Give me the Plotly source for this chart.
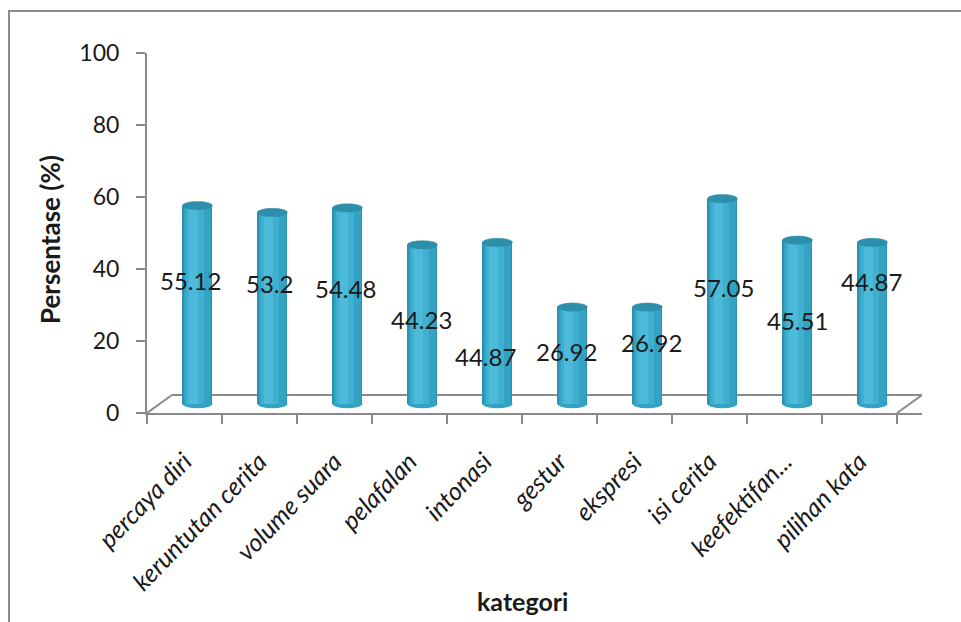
import plotly.graph_objects as go

# Category names and percentages
categories = ["percaya diri", "keruntutan cerita", "volume suara", "pelafalan",
              "intonasi", "gestur", "ekspresi", "isi cerita", "keefektifan...",
              "pilihan kata"]
values = [55.12, 53.2, 54.48, 44.23, 44.87, 26.92, 26.92, 57.05, 45.51, 44.87]
value_text = ["55.12", "53.2", "54.48", "44.23", "44.87", "26.92", "26.92",
              "57.05", "45.51", "44.87"]

# Where the value labels sit (data units on the y axis) and their small horizontal nudges (px)
label_y = [36.7, 36.1, 34.5, 25.9, 15.6, 17.2, 19.7, 34.8, 25.6, 36.4]
label_dx = [-7, -3, -2, -1, -12, -6, 4, 1, 0, -1]

y_ticks = [0, 20, 40, 60, 80, 100]

FONT = "Lato, Carlito, Calibri, sans-serif"
DEPTH_X = 0.333      # floor depth shift in category units
DEPTH_Y = 5.0        # floor depth shift in y units
CYL_SHIFT = DEPTH_X / 2 + 0.006
CYL_W = 0.40
BASE_SHIFT = 2.5     # cylinders stand at mid-depth of the floor

n = len(categories)
idx = list(range(n))
centers = [i + CYL_SHIFT for i in idx]

fig = go.Figure()

# cylinder bodies: layered strips give a rounded shading
strips = [
    (CYL_W, 0.0, "#2B91B0"),
    (0.36, 0.0, "#34A3C3"),
    (0.24, -0.03, "#3FB0CF"),
    (0.12, -0.05, "#4CBAD8"),
]
for w, shift, col in strips:
    fig.add_trace(go.Bar(
        x=categories, y=values, width=[w] * n,
        offset=[CYL_SHIFT + shift - w / 2] * n,
        marker=dict(color=col, line=dict(width=0)),
        yaxis="y2", hoverinfo="skip", showlegend=False,
    ))

shapes = []
# 3D floor edges
shapes.append(dict(type="line", xref="x", yref="y", x0=-0.5, y0=0,
                   x1=-0.5 + DEPTH_X, y1=DEPTH_Y, line=dict(color="#8a8a8a", width=2), layer="below"))
shapes.append(dict(type="line", xref="x", yref="y", x0=-0.5 + DEPTH_X, y0=DEPTH_Y,
                   x1=n - 0.5 + DEPTH_X, y1=DEPTH_Y, line=dict(color="#8a8a8a", width=2), layer="below"))
shapes.append(dict(type="line", xref="x", yref="y", x0=n - 0.5, y0=0,
                   x1=n - 0.5 + DEPTH_X, y1=DEPTH_Y, line=dict(color="#8a8a8a", width=2), layer="below"))

# cylinder bottoms and tops
for c, v in zip(centers, values):
    shapes.append(dict(type="circle", xref="x", yref="y2",
                       x0=c - CYL_W / 2, x1=c + CYL_W / 2, y0=-1.15, y1=1.15,
                       fillcolor="#34A3C3", line=dict(width=0), layer="below"))
    shapes.append(dict(type="circle", xref="x", yref="y2",
                       x0=c - CYL_W / 2, x1=c + CYL_W / 2, y0=v - 1.15, y1=v + 1.15,
                       fillcolor="#2C8FAC", line=dict(color="#2A8AA6", width=0.5)))

# outer chart border
shapes.append(dict(type="rect", xref="paper", yref="paper",
                   x0=(9 - 147) / 775, x1=1.3, y0=-1.0, y1=(413 - 11) / 360,
                   line=dict(color="#8c8c8c", width=2), fillcolor="rgba(0,0,0,0)"))

annotations = []
for c, v, t, ly, dx in zip(centers, values, value_text, label_y, label_dx):
    annotations.append(dict(x=c, y=ly, xref="x", yref="y", text=t, showarrow=False,
                            xshift=dx, font=dict(family=FONT, size=24, color="#1a1a1a")))

annotations.append(dict(text="<b>Persentase (%)</b>", xref="paper", yref="paper",
                        x=(50 - 147) / 775, y=(413 - 240) / 360, textangle=-90,
                        showarrow=False, xanchor="center", yanchor="middle",
                        font=dict(family=FONT, size=26, color="#1a1a1a")))
annotations.append(dict(text="<b>kategori</b>", xref="paper", yref="paper",
                        x=(522 - 147) / 775, y=(413 - 601) / 360,
                        showarrow=False, xanchor="center", yanchor="middle",
                        font=dict(family=FONT, size=25, color="#1a1a1a")))

fig.update_layout(
    width=961, height=622,
    margin=dict(l=147, r=39, t=53, b=209),
    paper_bgcolor="white", plot_bgcolor="white",
    barmode="overlay", bargap=0,
    showlegend=False,
    shapes=shapes, annotations=annotations,
    xaxis=dict(
        type="category", categoryorder="array", categoryarray=categories,
        range=[-0.5, -0.5 + 775 / 75], tickson="boundaries",
        showline=True, linecolor="#8a8a8a", linewidth=2,
        ticks="outside", ticklen=9, tickcolor="#8a8a8a", tickwidth=2,
        tickangle=-46, showgrid=False, zeroline=False, ticklabelstandoff=22,
        tickfont=dict(family=FONT, size=25, color="#1a1a1a", style="italic"),
    ),
    yaxis=dict(
        range=[0, 100], tickvals=y_ticks, ticktext=[str(t) for t in y_ticks],
        showline=True, linecolor="#8a8a8a", linewidth=2,
        ticks="outside", ticklen=9, tickcolor="#8a8a8a", tickwidth=2,
        showgrid=False, zeroline=False, ticklabelstandoff=12,
        tickfont=dict(family=FONT, size=23, color="#1a1a1a"),
    ),
    yaxis2=dict(
        range=[-BASE_SHIFT, 100 - BASE_SHIFT], overlaying="y", visible=False,
        showgrid=False, zeroline=False,
    ),
)

fig.write_html("out.html")
